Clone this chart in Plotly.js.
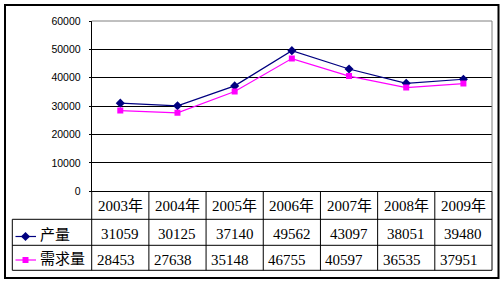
<!DOCTYPE html>
<html>
<head>
<meta charset="utf-8">
<script src="https://cdn.plot.ly/plotly-3.0.1.min.js"></script>
<style>html,body{margin:0;padding:0;background:#fff;}#chart{width:504px;height:284px;}</style>
</head>
<body>
<div id="chart"></div>
<script>
// ---- data ----
const categories = ['2003年', '2004年', '2005年', '2006年', '2007年', '2008年', '2009年'];
const seriesNames = ['产量', '需求量'];
const outputValues = [31059, 30125, 37140, 49562, 43097, 38051, 39480];
const demandValues = [28453, 27638, 35148, 46755, 40597, 36535, 37951];
const yTickValues = [0, 10000, 20000, 30000, 40000, 50000, 60000];

// ---- geometry (pixels) ----
const W = 504, H = 284;
const PL = 91.7, PR = 492, PT = 21, PB = 191.3;
const TL = 12.3, R1 = 219.3, R2 = 245.3, R3 = 270.3;
const P = v => v / W;
const Q = v => 1 - v / H;

const tableFont = {family: "'Liberation Serif', 'Noto Sans CJK SC', serif", size: 15, color: '#000'};
const colors = ['#000080', '#FF00FF'];
const symbols = ['diamond', 'square'];
const symSizes = [7, 6];

const traces = [
  {x: categories, y: outputValues, type: 'scatter', mode: 'lines+markers', name: seriesNames[0],
   line: {color: colors[0], width: 1.2}, marker: {color: colors[0], symbol: symbols[0], size: symSizes[0]},
   xaxis: 'x', yaxis: 'y'},
  {x: categories, y: demandValues, type: 'scatter', mode: 'lines+markers', name: seriesNames[1],
   line: {color: colors[1], width: 1.2}, marker: {color: colors[1], symbol: symbols[1], size: symSizes[1]},
   xaxis: 'x', yaxis: 'y'}
];

// legend keys in table's first column (pixel helper axes)
const keyRows = [236.5, 260];
seriesNames.forEach((n, i) => {
  traces.push({x: [15.5, 36], y: [keyRows[i], keyRows[i]], type: 'scatter', mode: 'lines',
    line: {color: colors[i], width: 1.2}, xaxis: 'x2', yaxis: 'y2', hoverinfo: 'skip'});
  traces.push({x: [25.5], y: [keyRows[i]], type: 'scatter', mode: 'markers',
    marker: {color: colors[i], symbol: symbols[i], size: symSizes[i]}, xaxis: 'x2', yaxis: 'y2', hoverinfo: 'skip'});
});

const shapes = [];
const line = (x0, y0, x1, y1, color, width, xref) => shapes.push({type: 'line', xref: xref || 'paper', yref: 'paper',
  x0: x0, y0: y0, x1: x1, y1: y1, line: {color: color, width: width || 1}});

// outer border
shapes.push({type: 'rect', xref: 'paper', yref: 'paper', x0: P(5), x1: P(498.5), y0: Q(5), y1: Q(278),
  line: {color: '#000', width: 2}});
// plot area border (grey top/right)
line(P(PL), Q(PT), P(PR), Q(PT), '#808080', 1);
line(P(PR), Q(PT), P(PR), Q(PB), '#808080', 1);
// table horizontals
[R1, R2, R3].forEach(r => line(P(TL), Q(r), P(PR), Q(r), '#000', 1));
// table verticals
line(P(TL), Q(R1), P(TL), Q(R3), '#000', 1);
line(P(PL), Q(PB), P(PL), Q(R3), '#000', 1);
line(P(PR), Q(PB), P(PR), Q(R3), '#000', 1);
for (let i = 0; i < categories.length - 1; i++) line(i + 0.5, Q(PB), i + 0.5, Q(R3), '#000', 1, 'x');

const annotations = [];
categories.forEach((c, i) => {
  annotations.push({xref: 'x', yref: 'paper', x: i, y: Q(206), text: c, showarrow: false, font: tableFont, xanchor: 'center', yanchor: 'middle'});
  annotations.push({xref: 'x', yref: 'paper', x: i, y: Q(233.5), text: String(outputValues[i]), showarrow: false, font: tableFont, xanchor: 'center', yanchor: 'middle'});
  annotations.push({xref: 'x', yref: 'paper', x: i - 0.5, xshift: 3, y: Q(259.5), text: String(demandValues[i]), showarrow: false, font: tableFont, xanchor: 'left', yanchor: 'middle'});
});
seriesNames.forEach((n, i) => {
  annotations.push({xref: 'paper', yref: 'paper', x: P(38), y: Q(keyRows[i] - 1.5), text: n, showarrow: false, font: tableFont, xanchor: 'left', yanchor: 'middle'});
});

const layout = {
  width: W, height: H,
  margin: {l: 0, r: 0, t: 0, b: 0},
  paper_bgcolor: '#fff', plot_bgcolor: 'rgba(0,0,0,0)',
  showlegend: false,
  xaxis: {domain: [P(PL), P(PR)], type: 'category', range: [-0.5, categories.length - 0.5],
    showgrid: false, showline: true, linecolor: '#000', linewidth: 1, showticklabels: false, ticks: '', zeroline: false, fixedrange: true},
  yaxis: {domain: [Q(PB), Q(PT)], range: [0, 60000], tickvals: yTickValues, ticktext: yTickValues.map(String),
    showgrid: true, gridcolor: '#000', gridwidth: 1, showline: true, linecolor: '#000', linewidth: 1,
    ticks: 'outside', ticklen: 2, tickcolor: '#000', zeroline: false,
    tickfont: {family: "'Liberation Sans', Arial, sans-serif", size: 10.5, color: '#000'}, ticklabelstandoff: 6, fixedrange: true},
  xaxis2: {domain: [0, 1], range: [0, W], visible: false, anchor: 'y2', fixedrange: true},
  yaxis2: {domain: [0, 1], range: [H, 0], visible: false, anchor: 'x2', fixedrange: true},
  shapes: shapes,
  annotations: annotations
};

Plotly.newPlot('chart', traces, layout, {staticPlot: true, displayModeBar: false});
</script>
</body>
</html>
